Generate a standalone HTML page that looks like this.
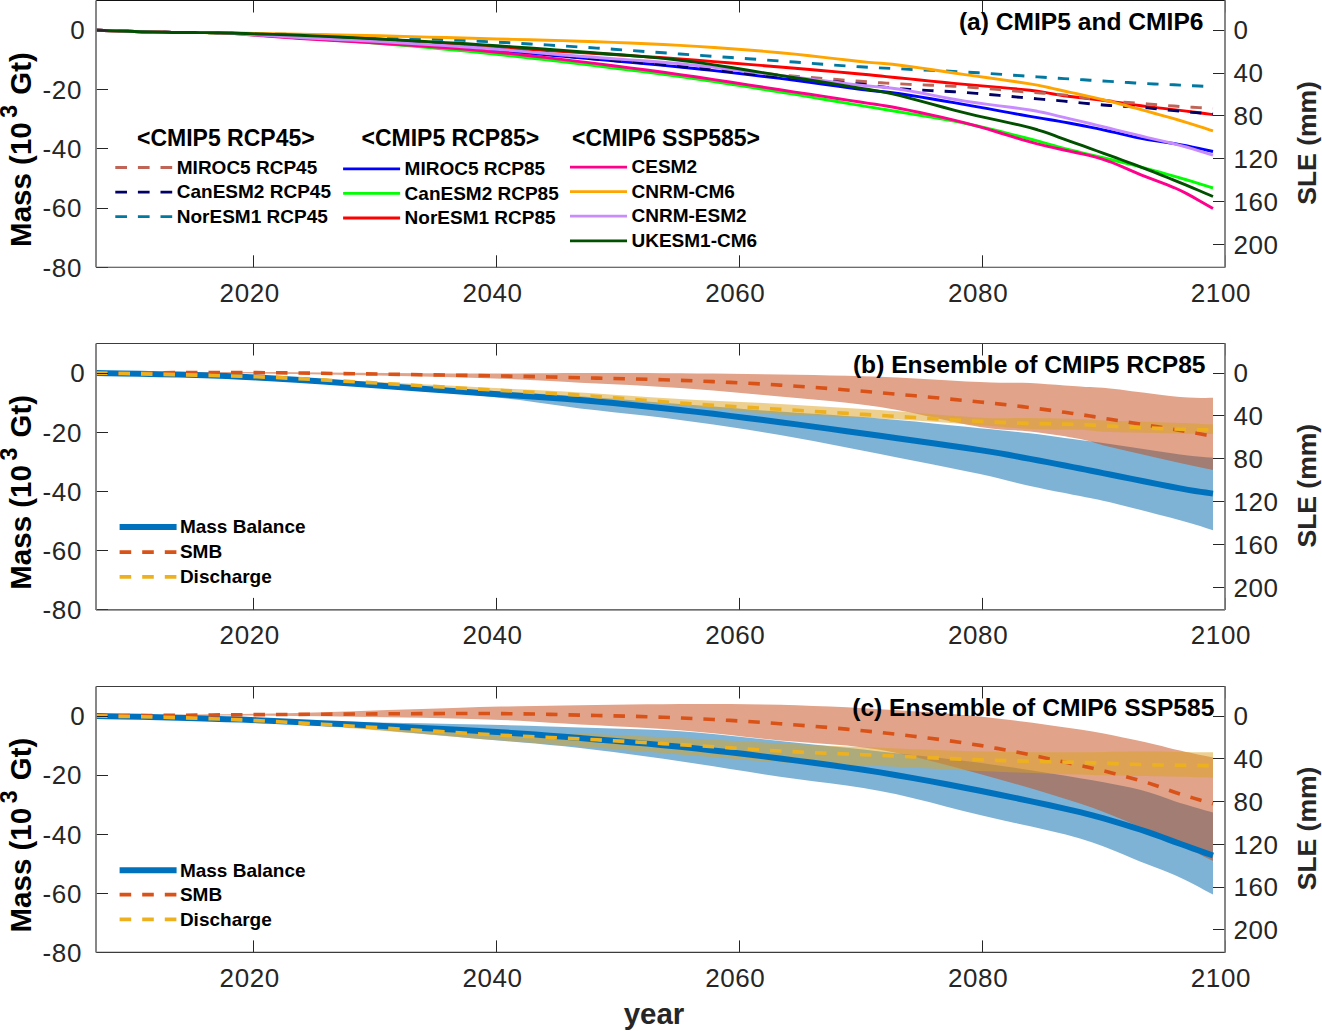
<!DOCTYPE html>
<html><head><meta charset="utf-8"><title>Mass change projections</title>
<style>html,body{margin:0;padding:0;background:#fff;}svg{display:block;}</style></head><body>
<svg width="1322" height="1031" viewBox="0 0 1322 1031" font-family='"Liberation Sans", sans-serif'>
<rect x="0" y="0" width="1322" height="1031" fill="#fff"/>
<g>
<path d="M96 30.3 L103.77 30.54 L114.81 30.88 L127.75 31.28 L141.19 31.69 L153.73 32.04 L164 32.3 L171.98 32.45 L178.78 32.52 L184.69 32.55 L190 32.56 L195.01 32.56 L200 32.6 L204.22 32.62 L207.3 32.61 L210.06 32.6 L213.37 32.63 L218.07 32.75 L225 33 L234.55 33.39 L246.11 33.88 L259.06 34.46 L272.78 35.11 L286.63 35.79 L300 36.5 L312.81 37.22 L325.56 37.96 L338.44 38.75 L351.67 39.59 L365.45 40.5 L380 41.5 L395.51 42.59 L411.85 43.77 L428.75 45.01 L445.93 46.31 L463.1 47.65 L480 49 L496.67 50.39 L513.33 51.82 L530 53.29 L546.67 54.79 L563.33 56.3 L580 57.8 L596.67 59.28 L613.33 60.76 L630 62.24 L646.67 63.76 L663.33 65.33 L680 67 L696.9 68.78 L714.07 70.66 L731.25 72.6 L748.15 74.56 L764.49 76.51 L780 78.4 L794.95 80.31 L809.63 82.27 L823.75 84.23 L837.04 86.08 L849.21 87.77 L860 89.2 L868.69 90.25 L875.37 90.96 L880.94 91.5 L886.3 92.04 L892.35 92.75 L900 93.8 L909.39 95.23 L919.81 96.9 L930.94 98.75 L942.41 100.7 L953.88 102.67 L965 104.6 L976.19 106.58 L987.81 108.69 L999.44 110.82 L1010.63 112.88 L1020.96 114.77 L1030 116.4 L1037.4 117.68 L1043.44 118.68 L1048.62 119.51 L1053.44 120.28 L1058.4 121.1 L1064 122.1 L1070.22 123.26 L1076.67 124.49 L1083.25 125.77 L1089.89 127.09 L1096.5 128.44 L1103 129.8 L1109.38 131.21 L1115.7 132.69 L1122 134.19 L1128.3 135.68 L1134.62 137.1 L1141 138.4 L1147.51 139.56 L1154.15 140.62 L1160.81 141.61 L1167.41 142.57 L1173.84 143.55 L1180 144.6 L1186.23 145.79 L1192.67 147.1 L1198.94 148.44 L1204.67 149.69 L1209.48 150.74 L1213 151.5" fill="none" stroke="#0000FF" stroke-width="2.9" stroke-linejoin="round"/>
<path d="M96 30.3 L103.77 30.54 L114.81 30.88 L127.75 31.28 L141.19 31.69 L153.73 32.04 L164 32.3 L171.98 32.45 L178.78 32.52 L184.69 32.55 L190 32.56 L195.01 32.56 L200 32.6 L204.22 32.61 L207.3 32.56 L210.06 32.51 L213.37 32.52 L218.07 32.67 L225 33 L234.55 33.56 L246.11 34.31 L259.06 35.18 L272.78 36.13 L286.63 37.08 L300 38 L312.81 38.85 L325.56 39.67 L338.44 40.5 L351.67 41.39 L365.45 42.38 L380 43.5 L395.51 44.77 L411.85 46.15 L428.75 47.63 L445.93 49.19 L463.1 50.82 L480 52.5 L496.67 54.25 L513.33 56.07 L530 57.97 L546.67 59.91 L563.33 61.9 L580 63.9 L596.67 65.91 L613.33 67.94 L630 70 L646.67 72.12 L663.33 74.31 L680 76.6 L696.9 79.03 L714.07 81.61 L731.25 84.26 L748.15 86.91 L764.49 89.52 L780 92 L794.95 94.43 L809.63 96.87 L823.75 99.25 L837.04 101.51 L849.21 103.58 L860 105.4 L868.69 106.84 L875.37 107.93 L880.94 108.83 L886.3 109.7 L892.35 110.71 L900 112 L909.39 113.56 L919.81 115.26 L930.94 117.08 L942.41 119.03 L953.88 121.11 L965 123.3 L976.19 125.73 L987.81 128.44 L999.44 131.27 L1010.63 134.07 L1020.96 136.7 L1030 139 L1037.4 140.93 L1043.44 142.6 L1048.62 144.1 L1053.44 145.51 L1058.4 146.91 L1064 148.4 L1070.22 149.95 L1076.67 151.5 L1083.25 153.05 L1089.89 154.6 L1096.5 156.15 L1103 157.7 L1109.38 159.24 L1115.7 160.77 L1122 162.31 L1128.3 163.86 L1134.62 165.45 L1141 167.1 L1147.51 168.83 L1154.15 170.62 L1160.81 172.46 L1167.41 174.3 L1173.84 176.12 L1180 177.9 L1186.23 179.74 L1192.67 181.69 L1198.94 183.62 L1204.67 185.41 L1209.48 186.91 L1213 188" fill="none" stroke="#00FF00" stroke-width="2.9" stroke-linejoin="round"/>
<path d="M96 30.3 L103.77 30.54 L114.81 30.88 L127.75 31.28 L141.19 31.69 L153.73 32.04 L164 32.3 L171.98 32.45 L178.78 32.52 L184.69 32.55 L190 32.56 L195.01 32.56 L200 32.6 L204.22 32.64 L207.3 32.65 L210.06 32.66 L213.37 32.71 L218.07 32.81 L225 33 L234.55 33.28 L246.11 33.64 L259.06 34.06 L272.78 34.51 L286.63 35 L300 35.5 L312.81 35.98 L325.56 36.44 L338.44 36.94 L351.67 37.5 L365.45 38.17 L380 39 L395.51 40.04 L411.85 41.26 L428.75 42.59 L445.93 43.96 L463.1 45.29 L480 46.5 L496.67 47.58 L513.33 48.59 L530 49.56 L546.67 50.52 L563.33 51.49 L580 52.5 L596.67 53.54 L613.33 54.57 L630 55.62 L646.67 56.7 L663.33 57.82 L680 59 L696.9 60.26 L714.07 61.59 L731.25 62.97 L748.15 64.35 L764.49 65.71 L780 67 L794.95 68.26 L809.63 69.52 L823.75 70.75 L837.04 71.93 L849.21 73.02 L860 74 L868.69 74.81 L875.37 75.47 L880.94 76.04 L886.3 76.6 L892.35 77.23 L900 78 L909.39 78.93 L919.81 79.97 L930.94 81.08 L942.41 82.21 L953.88 83.33 L965 84.4 L976.19 85.42 L987.81 86.42 L999.44 87.41 L1010.63 88.39 L1020.96 89.35 L1030 90.3 L1037.4 91.24 L1043.44 92.17 L1048.62 93.08 L1053.44 93.98 L1058.4 94.85 L1064 95.7 L1070.22 96.5 L1076.67 97.26 L1083.25 97.99 L1089.89 98.73 L1096.5 99.49 L1103 100.3 L1109.38 101.17 L1115.7 102.1 L1122 103.05 L1128.3 104 L1134.62 104.92 L1141 105.8 L1147.51 106.62 L1154.15 107.41 L1160.81 108.18 L1167.41 108.93 L1173.84 109.67 L1180 110.4 L1186.23 111.17 L1192.67 111.99 L1198.94 112.79 L1204.67 113.53 L1209.48 114.15 L1213 114.6" fill="none" stroke="#FF0000" stroke-width="2.9" stroke-linejoin="round"/>
<path d="M96 30.3 L103.77 30.54 L114.81 30.88 L127.75 31.28 L141.19 31.69 L153.73 32.04 L164 32.3 L171.98 32.45 L178.78 32.52 L184.69 32.55 L190 32.56 L195.01 32.56 L200 32.6 L204.22 32.63 L207.3 32.63 L210.06 32.63 L213.37 32.67 L218.07 32.78 L225 33 L234.55 33.33 L246.11 33.75 L259.06 34.24 L272.78 34.79 L286.63 35.38 L300 36 L312.81 36.63 L325.56 37.3 L338.44 38 L351.67 38.76 L365.45 39.59 L380 40.5 L395.51 41.49 L411.85 42.56 L428.75 43.69 L445.93 44.89 L463.1 46.16 L480 47.5 L496.67 48.94 L513.33 50.5 L530 52.12 L546.67 53.78 L563.33 55.42 L580 57 L596.67 58.53 L613.33 60.04 L630 61.53 L646.67 63.02 L663.33 64.51 L680 66 L696.9 67.53 L714.07 69.1 L731.25 70.67 L748.15 72.2 L764.49 73.66 L780 75 L794.95 76.25 L809.63 77.44 L823.75 78.55 L837.04 79.57 L849.21 80.5 L860 81.3 L868.69 81.94 L875.37 82.43 L880.94 82.81 L886.3 83.14 L892.35 83.49 L900 83.9 L909.39 84.35 L919.81 84.78 L930.94 85.23 L942.41 85.71 L953.88 86.26 L965 86.9 L976.19 87.69 L987.81 88.63 L999.44 89.62 L1010.63 90.62 L1020.96 91.53 L1030 92.3 L1037.4 92.86 L1043.44 93.27 L1048.62 93.6 L1053.44 93.93 L1058.4 94.34 L1064 94.9 L1070.22 95.66 L1076.67 96.58 L1083.25 97.57 L1089.89 98.57 L1096.5 99.5 L1103 100.3 L1109.38 100.95 L1115.7 101.5 L1122 101.99 L1128.3 102.45 L1134.62 102.91 L1141 103.4 L1147.51 103.93 L1154.15 104.48 L1160.81 105.03 L1167.41 105.56 L1173.84 106.05 L1180 106.5 L1186.23 106.91 L1192.67 107.29 L1198.94 107.64 L1204.67 107.95 L1209.48 108.21 L1213 108.4" fill="none" stroke="#C06458" stroke-width="2.9" stroke-dasharray="11.3 11.1" stroke-linejoin="round"/>
<path d="M96 30.3 L103.77 30.54 L114.81 30.88 L127.75 31.28 L141.19 31.69 L153.73 32.04 L164 32.3 L171.98 32.45 L178.78 32.52 L184.69 32.55 L190 32.56 L195.01 32.56 L200 32.6 L204.22 32.63 L207.3 32.63 L210.06 32.63 L213.37 32.67 L218.07 32.78 L225 33 L234.55 33.33 L246.11 33.75 L259.06 34.24 L272.78 34.79 L286.63 35.38 L300 36 L312.81 36.63 L325.56 37.28 L338.44 37.97 L351.67 38.72 L365.45 39.56 L380 40.5 L395.51 41.55 L411.85 42.7 L428.75 43.94 L445.93 45.24 L463.1 46.6 L480 48 L496.67 49.47 L513.33 51.04 L530 52.66 L546.67 54.3 L563.33 55.92 L580 57.5 L596.67 59.01 L613.33 60.48 L630 61.94 L646.67 63.41 L663.33 64.92 L680 66.5 L696.9 68.2 L714.07 70.02 L731.25 71.88 L748.15 73.7 L764.49 75.44 L780 77 L794.95 78.39 L809.63 79.67 L823.75 80.86 L837.04 81.96 L849.21 83 L860 84 L868.69 84.94 L875.37 85.8 L880.94 86.61 L886.3 87.36 L892.35 88.09 L900 88.8 L909.39 89.46 L919.81 90.04 L930.94 90.59 L942.41 91.16 L953.88 91.78 L965 92.5 L976.19 93.37 L987.81 94.36 L999.44 95.4 L1010.63 96.43 L1020.96 97.39 L1030 98.2 L1037.4 98.83 L1043.44 99.34 L1048.62 99.76 L1053.44 100.16 L1058.4 100.59 L1064 101.1 L1070.22 101.71 L1076.67 102.39 L1083.25 103.09 L1089.89 103.78 L1096.5 104.43 L1103 105 L1109.38 105.46 L1115.7 105.83 L1122 106.15 L1128.3 106.47 L1134.62 106.84 L1141 107.3 L1147.51 107.87 L1154.15 108.52 L1160.81 109.22 L1167.41 109.92 L1173.84 110.6 L1180 111.2 L1186.23 111.76 L1192.67 112.32 L1198.94 112.84 L1204.67 113.31 L1209.48 113.71 L1213 114" fill="none" stroke="#000066" stroke-width="2.9" stroke-dasharray="11.3 11.1" stroke-linejoin="round"/>
<path d="M96 30.3 L103.77 30.54 L114.81 30.88 L127.75 31.28 L141.19 31.69 L153.73 32.04 L164 32.3 L171.98 32.45 L178.78 32.52 L184.69 32.55 L190 32.56 L195.01 32.56 L200 32.6 L204.22 32.65 L207.3 32.68 L210.06 32.72 L213.37 32.77 L218.07 32.86 L225 33 L234.55 33.19 L246.11 33.41 L259.06 33.68 L272.78 33.96 L286.63 34.27 L300 34.6 L312.81 34.93 L325.56 35.27 L338.44 35.64 L351.67 36.04 L365.45 36.49 L380 37 L395.51 37.58 L411.85 38.21 L428.75 38.89 L445.93 39.61 L463.1 40.39 L480 41.2 L496.67 42.06 L513.33 42.97 L530 43.93 L546.67 44.92 L563.33 45.95 L580 47 L596.67 48.1 L613.33 49.24 L630 50.42 L646.67 51.62 L663.33 52.82 L680 54 L696.9 55.18 L714.07 56.38 L731.25 57.57 L748.15 58.76 L764.49 59.9 L780 61 L794.2 62.04 L807.22 63.04 L819.69 64.01 L832.22 64.96 L845.45 65.88 L860 66.8 L876.52 67.71 L894.63 68.61 L913.44 69.49 L932.04 70.35 L949.53 71.19 L965 72 L978.51 72.81 L990.78 73.61 L1001.94 74.39 L1012.11 75.13 L1021.42 75.8 L1030 76.4 L1037.4 76.89 L1043.44 77.29 L1048.62 77.63 L1053.44 77.93 L1058.4 78.25 L1064 78.6 L1070.22 78.99 L1076.67 79.39 L1083.25 79.79 L1089.89 80.2 L1096.5 80.6 L1103 81 L1109.38 81.39 L1115.7 81.79 L1122 82.19 L1128.3 82.57 L1134.62 82.95 L1141 83.3 L1147.51 83.63 L1154.15 83.94 L1160.81 84.24 L1167.41 84.53 L1173.84 84.82 L1180 85.1 L1186.23 85.4 L1192.67 85.71 L1198.94 86.01 L1204.67 86.29 L1209.48 86.53 L1213 86.7" fill="none" stroke="#0078A0" stroke-width="2.9" stroke-dasharray="11.3 11.1" stroke-linejoin="round"/>
<path d="M96 30.3 L103.77 30.54 L114.81 30.88 L127.75 31.28 L141.19 31.69 L153.73 32.04 L164 32.3 L171.98 32.45 L178.78 32.52 L184.69 32.55 L190 32.56 L195.01 32.56 L200 32.6 L204.22 32.6 L207.3 32.53 L210.06 32.47 L213.37 32.48 L218.07 32.63 L225 33 L234.55 33.64 L246.11 34.51 L259.06 35.53 L272.78 36.61 L286.63 37.66 L300 38.6 L312.81 39.41 L325.56 40.14 L338.44 40.84 L351.67 41.57 L365.45 42.38 L380 43.3 L395.51 44.32 L411.85 45.4 L428.75 46.56 L445.93 47.8 L463.1 49.14 L480 50.6 L496.67 52.2 L513.33 53.92 L530 55.74 L546.67 57.65 L563.33 59.61 L580 61.6 L596.67 63.63 L613.33 65.7 L630 67.84 L646.67 70.03 L663.33 72.28 L680 74.6 L696.9 77.04 L714.07 79.61 L731.25 82.25 L748.15 84.87 L764.49 87.41 L780 89.8 L794.95 92.07 L809.63 94.3 L823.75 96.44 L837.04 98.47 L849.21 100.33 L860 102 L868.69 103.32 L875.37 104.3 L880.94 105.12 L886.3 105.97 L892.35 107.03 L900 108.5 L909.39 110.38 L919.81 112.51 L930.94 114.86 L942.41 117.39 L953.88 120.05 L965 122.8 L976.19 125.83 L987.81 129.22 L999.44 132.74 L1010.63 136.17 L1020.96 139.3 L1030 141.9 L1037.4 143.87 L1043.44 145.37 L1048.62 146.56 L1053.44 147.62 L1058.4 148.71 L1064 150 L1070.22 151.41 L1076.67 152.78 L1083.25 154.19 L1089.89 155.7 L1096.5 157.38 L1103 159.3 L1109.38 161.52 L1115.7 164.01 L1122 166.66 L1128.3 169.4 L1134.62 172.14 L1141 174.8 L1147.51 177.35 L1154.15 179.86 L1160.81 182.38 L1167.41 184.93 L1173.84 187.55 L1180 190.3 L1186.23 193.4 L1192.67 196.87 L1198.94 200.42 L1204.67 203.75 L1209.48 206.58 L1213 208.6" fill="none" stroke="#FF008C" stroke-width="2.9" stroke-linejoin="round"/>
<path d="M96 30.3 L103.77 30.54 L114.81 30.88 L127.75 31.28 L141.19 31.69 L153.73 32.04 L164 32.3 L171.98 32.45 L178.78 32.52 L184.69 32.55 L190 32.56 L195.01 32.56 L200 32.6 L204.22 32.65 L207.3 32.7 L210.06 32.75 L213.37 32.81 L218.07 32.89 L225 33 L234.55 33.14 L246.11 33.29 L259.06 33.47 L272.78 33.66 L286.63 33.87 L300 34.1 L312.81 34.34 L325.56 34.59 L338.44 34.85 L351.67 35.14 L365.45 35.45 L380 35.8 L395.51 36.19 L411.85 36.63 L428.75 37.09 L445.93 37.56 L463.1 38.04 L480 38.5 L496.67 38.93 L513.33 39.34 L530 39.76 L546.67 40.19 L563.33 40.66 L580 41.2 L596.67 41.78 L613.33 42.37 L630 43.01 L646.67 43.71 L663.33 44.5 L680 45.4 L696.9 46.42 L714.07 47.55 L731.25 48.76 L748.15 50.04 L764.49 51.36 L780 52.7 L794.95 54.14 L809.63 55.71 L823.75 57.33 L837.04 58.89 L849.21 60.31 L860 61.5 L868.69 62.35 L875.37 62.9 L880.94 63.31 L886.3 63.73 L892.35 64.31 L900 65.2 L909.39 66.44 L919.81 67.91 L930.94 69.55 L942.41 71.26 L953.88 72.97 L965 74.6 L976.19 76.18 L987.81 77.79 L999.44 79.39 L1010.63 80.97 L1020.96 82.48 L1030 83.9 L1037.4 85.19 L1043.44 86.37 L1048.62 87.49 L1053.44 88.6 L1058.4 89.76 L1064 91 L1070.22 92.33 L1076.67 93.7 L1083.25 95.11 L1089.89 96.57 L1096.5 98.06 L1103 99.6 L1109.38 101.19 L1115.7 102.83 L1122 104.51 L1128.3 106.23 L1134.62 107.96 L1141 109.7 L1147.51 111.46 L1154.15 113.26 L1160.81 115.08 L1167.41 116.9 L1173.84 118.72 L1180 120.5 L1186.23 122.38 L1192.67 124.38 L1198.94 126.38 L1204.67 128.22 L1209.48 129.77 L1213 130.9" fill="none" stroke="#FFA500" stroke-width="2.9" stroke-linejoin="round"/>
<path d="M96 30.3 L103.77 30.54 L114.81 30.88 L127.75 31.28 L141.19 31.69 L153.73 32.04 L164 32.3 L171.98 32.45 L178.78 32.52 L184.69 32.55 L190 32.56 L195.01 32.56 L200 32.6 L204.22 32.61 L207.3 32.57 L210.06 32.54 L213.37 32.56 L218.07 32.69 L225 33 L234.55 33.52 L246.11 34.21 L259.06 35.02 L272.78 35.88 L286.63 36.73 L300 37.5 L312.81 38.18 L325.56 38.81 L338.44 39.43 L351.67 40.08 L365.45 40.79 L380 41.6 L395.51 42.51 L411.85 43.49 L428.75 44.54 L445.93 45.64 L463.1 46.8 L480 48 L496.67 49.28 L513.33 50.66 L530 52.08 L546.67 53.52 L563.33 54.94 L580 56.3 L596.67 57.55 L613.33 58.71 L630 59.84 L646.67 61.03 L663.33 62.32 L680 63.8 L696.9 65.52 L714.07 67.43 L731.25 69.46 L748.15 71.52 L764.49 73.53 L780 75.4 L794.95 77.19 L809.63 78.98 L823.75 80.71 L837.04 82.34 L849.21 83.82 L860 85.1 L868.69 86.03 L875.37 86.63 L880.94 87.07 L886.3 87.54 L892.35 88.22 L900 89.3 L909.39 90.86 L919.81 92.78 L930.94 94.91 L942.41 97.1 L953.88 99.21 L965 101.1 L976.19 102.77 L987.81 104.34 L999.44 105.82 L1010.63 107.25 L1020.96 108.64 L1030 110 L1037.4 111.3 L1043.44 112.51 L1048.62 113.67 L1053.44 114.85 L1058.4 116.07 L1064 117.4 L1070.22 118.84 L1076.67 120.36 L1083.25 121.93 L1089.89 123.53 L1096.5 125.13 L1103 126.7 L1109.38 128.25 L1115.7 129.8 L1122 131.35 L1128.3 132.9 L1134.62 134.45 L1141 136 L1147.51 137.54 L1154.15 139.08 L1160.81 140.62 L1167.41 142.16 L1173.84 143.72 L1180 145.3 L1186.23 147.02 L1192.67 148.89 L1198.94 150.78 L1204.67 152.54 L1209.48 154.03 L1213 155.1" fill="none" stroke="#C88CFF" stroke-width="2.9" stroke-linejoin="round"/>
<path d="M96 30.3 L103.77 30.54 L114.81 30.88 L127.75 31.28 L141.19 31.69 L153.73 32.04 L164 32.3 L171.98 32.45 L178.78 32.52 L184.69 32.55 L190 32.56 L195.01 32.56 L200 32.6 L204.22 32.64 L207.3 32.66 L210.06 32.68 L213.37 32.72 L218.07 32.82 L225 33 L234.55 33.26 L246.11 33.57 L259.06 33.94 L272.78 34.35 L286.63 34.81 L300 35.3 L312.81 35.83 L325.56 36.39 L338.44 37 L351.67 37.65 L365.45 38.35 L380 39.1 L395.51 39.9 L411.85 40.74 L428.75 41.64 L445.93 42.58 L463.1 43.57 L480 44.6 L496.67 45.69 L513.33 46.83 L530 48.02 L546.67 49.25 L563.33 50.51 L580 51.8 L596.67 53.05 L613.33 54.26 L630 55.5 L646.67 56.85 L663.33 58.39 L680 60.2 L696.9 62.37 L714.07 64.86 L731.25 67.53 L748.15 70.27 L764.49 72.93 L780 75.4 L794.95 77.72 L809.63 80.01 L823.75 82.22 L837.04 84.34 L849.21 86.31 L860 88.1 L868.69 89.55 L875.37 90.66 L880.94 91.62 L886.3 92.64 L892.35 93.94 L900 95.7 L909.39 98.04 L919.81 100.81 L930.94 103.85 L942.41 106.99 L953.88 110.06 L965 112.9 L976.19 115.54 L987.81 118.14 L999.44 120.66 L1010.63 123.11 L1020.96 125.46 L1030 127.7 L1037.4 129.77 L1043.44 131.66 L1048.62 133.45 L1053.44 135.23 L1058.4 137.09 L1064 139.1 L1070.22 141.28 L1076.67 143.57 L1083.25 145.94 L1089.89 148.34 L1096.5 150.74 L1103 153.1 L1109.38 155.42 L1115.7 157.71 L1122 160.01 L1128.3 162.32 L1134.62 164.68 L1141 167.1 L1147.51 169.62 L1154.15 172.21 L1160.81 174.86 L1167.41 177.5 L1173.84 180.09 L1180 182.6 L1186.23 185.17 L1192.67 187.87 L1198.94 190.52 L1204.67 192.96 L1209.48 195.01 L1213 196.5" fill="none" stroke="#005000" stroke-width="2.9" stroke-linejoin="round"/>
<line x1="253.5" y1="267.3" x2="253.5" y2="255.3" stroke="#262626" stroke-width="1"/>
<line x1="253.5" y1="0.5" x2="253.5" y2="12.5" stroke="#262626" stroke-width="1"/>
<text x="249.72" y="301.7" font-size="26" letter-spacing="0.6" text-anchor="middle" fill="#262626">2020</text>
<line x1="496.5" y1="267.3" x2="496.5" y2="255.3" stroke="#262626" stroke-width="1"/>
<line x1="496.5" y1="0.5" x2="496.5" y2="12.5" stroke="#262626" stroke-width="1"/>
<text x="492.51" y="301.7" font-size="26" letter-spacing="0.6" text-anchor="middle" fill="#262626">2040</text>
<line x1="739.5" y1="267.3" x2="739.5" y2="255.3" stroke="#262626" stroke-width="1"/>
<line x1="739.5" y1="0.5" x2="739.5" y2="12.5" stroke="#262626" stroke-width="1"/>
<text x="735.31" y="301.7" font-size="26" letter-spacing="0.6" text-anchor="middle" fill="#262626">2060</text>
<line x1="982.5" y1="267.3" x2="982.5" y2="255.3" stroke="#262626" stroke-width="1"/>
<line x1="982.5" y1="0.5" x2="982.5" y2="12.5" stroke="#262626" stroke-width="1"/>
<text x="978.1" y="301.7" font-size="26" letter-spacing="0.6" text-anchor="middle" fill="#262626">2080</text>
<line x1="1225.5" y1="267.3" x2="1225.5" y2="255.3" stroke="#262626" stroke-width="1"/>
<line x1="1225.5" y1="0.5" x2="1225.5" y2="12.5" stroke="#262626" stroke-width="1"/>
<text x="1220.9" y="301.7" font-size="26" letter-spacing="0.6" text-anchor="middle" fill="#262626">2100</text>
<line x1="96" y1="30.5" x2="108" y2="30.5" stroke="#262626" stroke-width="1"/>
<text x="85.4" y="39.44" font-size="26" letter-spacing="0.6" text-anchor="end" fill="#262626">0</text>
<line x1="96" y1="89.5" x2="108" y2="89.5" stroke="#262626" stroke-width="1"/>
<text x="82" y="98.73" font-size="26" letter-spacing="0.6" text-anchor="end" fill="#262626">-20</text>
<line x1="96" y1="148.5" x2="108" y2="148.5" stroke="#262626" stroke-width="1"/>
<text x="82" y="158.02" font-size="26" letter-spacing="0.6" text-anchor="end" fill="#262626">-40</text>
<line x1="96" y1="208.5" x2="108" y2="208.5" stroke="#262626" stroke-width="1"/>
<text x="82" y="217.31" font-size="26" letter-spacing="0.6" text-anchor="end" fill="#262626">-60</text>
<line x1="96" y1="267.5" x2="108" y2="267.5" stroke="#262626" stroke-width="1"/>
<text x="82" y="276.6" font-size="26" letter-spacing="0.6" text-anchor="end" fill="#262626">-80</text>
<line x1="1213" y1="30.5" x2="1225" y2="30.5" stroke="#262626" stroke-width="1"/>
<text x="1233.5" y="39.44" font-size="26" letter-spacing="0.6" fill="#262626">0</text>
<line x1="1213" y1="73.5" x2="1225" y2="73.5" stroke="#262626" stroke-width="1"/>
<text x="1233.5" y="82.37" font-size="26" letter-spacing="0.6" fill="#262626">40</text>
<line x1="1213" y1="115.5" x2="1225" y2="115.5" stroke="#262626" stroke-width="1"/>
<text x="1233.5" y="125.29" font-size="26" letter-spacing="0.6" fill="#262626">80</text>
<line x1="1213" y1="158.5" x2="1225" y2="158.5" stroke="#262626" stroke-width="1"/>
<text x="1233.5" y="168.22" font-size="26" letter-spacing="0.6" fill="#262626">120</text>
<line x1="1213" y1="201.5" x2="1225" y2="201.5" stroke="#262626" stroke-width="1"/>
<text x="1233.5" y="211.15" font-size="26" letter-spacing="0.6" fill="#262626">160</text>
<line x1="1213" y1="244.5" x2="1225" y2="244.5" stroke="#262626" stroke-width="1"/>
<text x="1233.5" y="254.07" font-size="26" letter-spacing="0.6" fill="#262626">200</text>
<line x1="96" y1="0.5" x2="1225" y2="0.5" stroke="#111" stroke-width="1.1"/>
<line x1="96" y1="267.3" x2="1225" y2="267.3" stroke="#3c3c3c" stroke-width="1.1"/>
<line x1="96" y1="0.5" x2="96" y2="267.3" stroke="#7a7a7a" stroke-width="1.8"/>
<line x1="1225" y1="0.5" x2="1225" y2="267.3" stroke="#7a7a7a" stroke-width="1.8"/>
<text transform="translate(31,246.9) rotate(-90)" font-size="29.5" font-weight="bold" fill="#000">Mass (10<tspan font-size="23" dx="4.5" dy="-14">3</tspan><tspan dx="2" dy="14"> Gt)</tspan></text>
<text transform="translate(1316,142.9) rotate(-90)" font-size="26.5" font-weight="bold" text-anchor="middle" fill="#262626">SLE (mm)</text>
<text x="1203.5" y="30" font-size="24.6" font-weight="bold" text-anchor="end" fill="#000">(a) CMIP5 and CMIP6</text>
<text x="137" y="145.5" font-size="23" font-weight="bold" fill="#000">&lt;CMIP5 RCP45&gt;</text>
<text x="361.5" y="145.5" font-size="23" font-weight="bold" fill="#000">&lt;CMIP5 RCP85&gt;</text>
<text x="572" y="145.5" font-size="23" font-weight="bold" fill="#000">&lt;CMIP6 SSP585&gt;</text>
<line x1="115.3" y1="167.5" x2="172.3" y2="167.5" stroke="#C06458" stroke-width="2.8" stroke-dasharray="11.7 10.9"/>
<text x="176.8" y="173.8" font-size="19" font-weight="bold" fill="#000">MIROC5 RCP45</text>
<line x1="115.3" y1="192.1" x2="172.3" y2="192.1" stroke="#000066" stroke-width="2.8" stroke-dasharray="11.7 10.9"/>
<text x="176.8" y="198.4" font-size="19" font-weight="bold" fill="#000">CanESM2 RCP45</text>
<line x1="115.3" y1="216.7" x2="172.3" y2="216.7" stroke="#0078A0" stroke-width="2.8" stroke-dasharray="11.7 10.9"/>
<text x="176.8" y="223" font-size="19" font-weight="bold" fill="#000">NorESM1 RCP45</text>
<line x1="343.1" y1="168.9" x2="400.1" y2="168.9" stroke="#0000FF" stroke-width="2.8"/>
<text x="404.6" y="175.2" font-size="19" font-weight="bold" fill="#000">MIROC5 RCP85</text>
<line x1="343.1" y1="193.4" x2="400.1" y2="193.4" stroke="#00FF00" stroke-width="2.8"/>
<text x="404.6" y="199.7" font-size="19" font-weight="bold" fill="#000">CanESM2 RCP85</text>
<line x1="343.1" y1="218" x2="400.1" y2="218" stroke="#FF0000" stroke-width="2.8"/>
<text x="404.6" y="224.3" font-size="19" font-weight="bold" fill="#000">NorESM1 RCP85</text>
<line x1="570" y1="167.1" x2="627" y2="167.1" stroke="#FF008C" stroke-width="2.8"/>
<text x="631.5" y="173.4" font-size="19" font-weight="bold" fill="#000">CESM2</text>
<line x1="570" y1="191.6" x2="627" y2="191.6" stroke="#FFA500" stroke-width="2.8"/>
<text x="631.5" y="197.9" font-size="19" font-weight="bold" fill="#000">CNRM-CM6</text>
<line x1="570" y1="216.1" x2="627" y2="216.1" stroke="#C88CFF" stroke-width="2.8"/>
<text x="631.5" y="222.4" font-size="19" font-weight="bold" fill="#000">CNRM-ESM2</text>
<line x1="570" y1="240.8" x2="627" y2="240.8" stroke="#005000" stroke-width="2.8"/>
<text x="631.5" y="247.1" font-size="19" font-weight="bold" fill="#000">UKESM1-CM6</text>
</g>
<g>
<path d="M96 373 L106.88 373.17 L121.93 373.38 L139.75 373.64 L158.96 373.96 L178.18 374.34 L196 374.8 L211.69 375.28 L226.22 375.76 L240.75 376.31 L256.44 376.99 L274.47 377.86 L296 379 L322.78 380.53 L354.22 382.44 L388 384.54 L421.78 386.66 L453.22 388.64 L480 390.3 L501.53 391.59 L519.56 392.63 L535.25 393.52 L549.78 394.37 L564.31 395.26 L580 396.3 L596.67 397.49 L613.33 398.74 L630 400.05 L646.67 401.38 L663.33 402.7 L680 404 L696.67 405.28 L713.33 406.57 L730 407.86 L746.67 409.13 L763.33 410.38 L780 411.6 L796.67 412.74 L813.33 413.81 L830 414.86 L846.67 415.94 L863.33 417.1 L880 418.4 L897.25 419.91 L915.19 421.62 L933.12 423.41 L950.37 425.17 L966.23 426.8 L980 428.2 L991.23 429.3 L1000.37 430.19 L1008.12 430.94 L1015.19 431.66 L1022.25 432.41 L1030 433.3 L1038.56 434.36 L1047.41 435.51 L1056.25 436.72 L1064.81 437.91 L1072.82 439.02 L1080 440 L1085.69 440.75 L1090 441.29 L1093.75 441.76 L1097.78 442.29 L1102.92 442.99 L1110 444 L1119.78 445.46 L1131.74 447.29 L1144.81 449.29 L1157.93 451.29 L1170.01 453.09 L1180 454.5 L1188.02 455.5 L1194.96 456.26 L1200.88 456.81 L1205.81 457.21 L1209.84 457.52 L1213 457.8 L1213 530.3 L1209.84 529.29 L1205.81 527.97 L1200.88 526.37 L1194.96 524.52 L1188.02 522.45 L1180 520.2 L1170.01 517.53 L1157.93 514.38 L1144.81 511.01 L1131.74 507.69 L1119.78 504.7 L1110 502.3 L1102.92 500.63 L1097.78 499.51 L1093.75 498.71 L1090 498.02 L1085.69 497.22 L1080 496.1 L1072.82 494.66 L1064.81 493.09 L1056.25 491.41 L1047.41 489.64 L1038.56 487.83 L1030 486 L1022.25 484.22 L1015.19 482.47 L1008.12 480.68 L1000.37 478.74 L991.23 476.58 L980 474.1 L966.23 471.21 L950.37 467.97 L933.12 464.49 L915.19 460.92 L897.25 457.38 L880 454 L863.33 450.72 L846.67 447.44 L830 444.19 L813.33 441 L796.67 437.93 L780 435 L763.33 432.22 L746.67 429.54 L730 426.98 L713.33 424.52 L696.67 422.16 L680 419.9 L663.33 417.79 L646.67 415.85 L630 414.01 L613.33 412.2 L596.67 410.35 L580 408.4 L564.31 406.37 L549.78 404.31 L535.25 402.23 L519.56 400.09 L501.53 397.88 L480 395.6 L453.22 393.1 L421.78 390.36 L388 387.56 L354.22 384.87 L322.78 382.46 L296 380.5 L274.47 379.05 L256.44 377.98 L240.75 377.19 L226.22 376.59 L211.69 376.05 L196 375.5 L178.18 374.95 L158.96 374.48 L139.75 374.09 L121.93 373.77 L106.88 373.51 L96 373.3 Z" fill="#0067AB" fill-opacity="0.5" stroke="none"/>
<path d="M96 373 L106.88 372.9 L121.93 372.76 L139.75 372.6 L158.96 372.44 L178.18 372.3 L196 372.2 L211.69 372.14 L226.22 372.09 L240.75 372.06 L256.44 372.07 L274.47 372.11 L296 372.2 L322.78 372.38 L354.22 372.64 L388 372.94 L421.78 373.24 L453.22 373.47 L480 373.6 L501.53 373.59 L519.56 373.48 L535.25 373.31 L549.78 373.13 L564.31 372.98 L580 372.9 L596.67 372.89 L613.33 372.92 L630 372.98 L646.67 373.07 L663.33 373.17 L680 373.3 L696.67 373.44 L713.33 373.6 L730 373.78 L746.67 373.99 L763.33 374.23 L780 374.5 L796.67 374.78 L813.33 375.07 L830 375.39 L846.67 375.77 L863.33 376.23 L880 376.8 L897.25 377.56 L915.19 378.5 L933.12 379.53 L950.37 380.54 L966.23 381.43 L980 382.1 L991.23 382.49 L1000.37 382.66 L1008.12 382.71 L1015.19 382.74 L1022.25 382.84 L1030 383.1 L1038.56 383.56 L1047.41 384.14 L1056.25 384.79 L1064.81 385.46 L1072.82 386.08 L1080 386.6 L1085.69 386.93 L1090 387.11 L1093.75 387.24 L1097.78 387.44 L1102.92 387.82 L1110 388.5 L1119.78 389.62 L1131.74 391.13 L1144.81 392.82 L1157.93 394.49 L1170.01 395.95 L1180 397 L1188.02 397.59 L1194.96 397.87 L1200.88 397.93 L1205.81 397.88 L1209.84 397.8 L1213 397.8 L1213 470 L1209.84 469.34 L1205.81 468.52 L1200.88 467.5 L1194.96 466.26 L1188.02 464.77 L1180 463 L1170.01 460.76 L1157.93 458.04 L1144.81 455.06 L1131.74 452.07 L1119.78 449.31 L1110 447 L1102.92 445.2 L1097.78 443.72 L1093.75 442.47 L1090 441.33 L1085.69 440.21 L1080 439 L1072.82 437.69 L1064.81 436.35 L1056.25 435.03 L1047.41 433.76 L1038.56 432.57 L1030 431.5 L1022.25 430.75 L1015.19 430.35 L1008.12 430.02 L1000.37 429.53 L991.23 428.61 L980 427 L966.23 424.47 L950.37 421.16 L933.12 417.43 L915.19 413.61 L897.25 410.06 L880 407.1 L863.33 404.77 L846.67 402.8 L830 401.09 L813.33 399.53 L796.67 398.04 L780 396.5 L763.33 394.92 L746.67 393.39 L730 391.92 L713.33 390.52 L696.67 389.21 L680 388 L663.33 386.93 L646.67 385.98 L630 385.12 L613.33 384.31 L596.67 383.52 L580 382.7 L564.31 381.86 L549.78 381.03 L535.25 380.21 L519.56 379.41 L501.53 378.64 L480 377.9 L453.22 377.16 L421.78 376.43 L388 375.71 L354.22 375.05 L322.78 374.47 L296 374 L274.47 373.65 L256.44 373.4 L240.75 373.24 L226.22 373.13 L211.69 373.06 L196 373 L178.18 372.98 L158.96 373.01 L139.75 373.09 L121.93 373.17 L106.88 373.25 L96 373.3 Z" fill="#C34713" fill-opacity="0.5" stroke="none"/>
<path d="M96 373 L106.88 373.18 L121.93 373.41 L139.75 373.7 L158.96 374.03 L178.18 374.4 L196 374.8 L211.69 375.18 L226.22 375.54 L240.75 375.94 L256.44 376.44 L274.47 377.1 L296 378 L322.78 379.23 L354.22 380.77 L388 382.47 L421.78 384.2 L453.22 385.82 L480 387.2 L501.53 388.3 L519.56 389.21 L535.25 390.02 L549.78 390.79 L564.31 391.59 L580 392.5 L596.67 393.53 L613.33 394.63 L630 395.77 L646.67 396.9 L663.33 397.99 L680 399 L696.67 399.91 L713.33 400.74 L730 401.53 L746.67 402.31 L763.33 403.12 L780 404 L796.67 404.94 L813.33 405.9 L830 406.89 L846.67 407.91 L863.33 408.98 L880 410.1 L897.25 411.36 L915.19 412.79 L933.12 414.26 L950.37 415.65 L966.23 416.84 L980 417.7 L991.23 418.16 L1000.37 418.31 L1008.12 418.25 L1015.19 418.1 L1022.25 417.98 L1030 418 L1038.56 418.14 L1047.41 418.32 L1056.25 418.52 L1064.81 418.74 L1072.82 418.97 L1080 419.2 L1085.69 419.42 L1090 419.65 L1093.75 419.88 L1097.78 420.13 L1102.92 420.4 L1110 420.7 L1119.78 421.05 L1131.74 421.44 L1144.81 421.85 L1157.93 422.26 L1170.01 422.65 L1180 423 L1188.02 423.31 L1194.96 423.61 L1200.88 423.89 L1205.81 424.14 L1209.84 424.35 L1213 424.5 L1213 434 L1209.84 433.96 L1205.81 433.91 L1200.88 433.84 L1194.96 433.76 L1188.02 433.65 L1180 433.5 L1170.01 433.32 L1157.93 433.1 L1144.81 432.86 L1131.74 432.59 L1119.78 432.3 L1110 432 L1102.92 431.66 L1097.78 431.27 L1093.75 430.86 L1090 430.46 L1085.69 430.1 L1080 429.8 L1072.82 429.61 L1064.81 429.51 L1056.25 429.44 L1047.41 429.36 L1038.56 429.2 L1030 428.9 L1022.25 428.48 L1015.19 427.99 L1008.12 427.42 L1000.37 426.77 L991.23 426.03 L980 425.2 L966.23 424.21 L950.37 423.06 L933.12 421.81 L915.19 420.57 L897.25 419.4 L880 418.4 L863.33 417.64 L846.67 417.07 L830 416.58 L813.33 416.06 L796.67 415.41 L780 414.5 L763.33 413.3 L746.67 411.89 L730 410.34 L713.33 408.73 L696.67 407.12 L680 405.6 L663.33 404.12 L646.67 402.61 L630 401.12 L613.33 399.66 L596.67 398.28 L580 397 L564.31 395.92 L549.78 395.02 L535.25 394.2 L519.56 393.33 L501.53 392.31 L480 391 L453.22 389.28 L421.78 387.2 L388 384.96 L354.22 382.75 L322.78 380.77 L296 379.2 L274.47 378.1 L256.44 377.31 L240.75 376.75 L226.22 376.32 L211.69 375.94 L196 375.5 L178.18 375.02 L158.96 374.57 L139.75 374.17 L121.93 373.81 L106.88 373.52 L96 373.3 Z" fill="#DBA121" fill-opacity="0.5" stroke="none"/>
<path d="M96 373.1 L106.88 373.29 L121.93 373.52 L139.75 373.81 L158.96 374.17 L178.18 374.59 L196 375.1 L211.69 375.62 L226.22 376.12 L240.75 376.69 L256.44 377.43 L274.47 378.4 L296 379.7 L322.78 381.48 L354.22 383.72 L388 386.19 L421.78 388.7 L453.22 391.04 L480 393 L501.53 394.51 L519.56 395.72 L535.25 396.76 L549.78 397.76 L564.31 398.83 L580 400.1 L596.67 401.56 L613.33 403.11 L630 404.73 L646.67 406.43 L663.33 408.18 L680 410 L696.67 411.88 L713.33 413.84 L730 415.87 L746.67 417.94 L763.33 420.06 L780 422.2 L796.67 424.38 L813.33 426.6 L830 428.87 L846.67 431.16 L863.33 433.48 L880 435.8 L897.25 438.21 L915.19 440.72 L933.12 443.25 L950.37 445.71 L966.23 448.03 L980 450.1 L991.23 451.88 L1000.37 453.41 L1008.12 454.79 L1015.19 456.11 L1022.25 457.45 L1030 458.9 L1038.56 460.5 L1047.41 462.17 L1056.25 463.87 L1064.81 465.54 L1072.82 467.1 L1080 468.5 L1085.69 469.62 L1090 470.47 L1093.75 471.23 L1097.78 472.05 L1102.92 473.08 L1110 474.5 L1119.78 476.46 L1131.74 478.87 L1144.81 481.5 L1157.93 484.12 L1170.01 486.5 L1180 488.4 L1188.02 489.83 L1194.96 490.97 L1200.88 491.87 L1205.81 492.57 L1209.84 493.13 L1213 493.6" fill="none" stroke="#0072BD" stroke-width="6" stroke-linejoin="round"/>
<path d="M96 373.1 L106.88 373.04 L121.93 372.94 L139.75 372.83 L158.96 372.72 L178.18 372.64 L196 372.6 L211.69 372.59 L226.22 372.59 L240.75 372.61 L256.44 372.67 L274.47 372.8 L296 373 L322.78 373.31 L354.22 373.72 L388 374.19 L421.78 374.69 L453.22 375.17 L480 375.6 L501.53 375.97 L519.56 376.32 L535.25 376.65 L549.78 376.98 L564.31 377.33 L580 377.7 L596.67 378.08 L613.33 378.45 L630 378.83 L646.67 379.25 L663.33 379.73 L680 380.3 L696.67 380.94 L713.33 381.63 L730 382.39 L746.67 383.21 L763.33 384.11 L780 385.1 L796.67 386.18 L813.33 387.36 L830 388.62 L846.67 389.94 L863.33 391.3 L880 392.7 L897.25 394.19 L915.19 395.81 L933.12 397.47 L950.37 399.11 L966.23 400.64 L980 402 L991.23 403.13 L1000.37 404.09 L1008.12 404.95 L1015.19 405.77 L1022.25 406.63 L1030 407.6 L1038.56 408.7 L1047.41 409.88 L1056.25 411.1 L1064.81 412.31 L1072.82 413.46 L1080 414.5 L1085.69 415.35 L1090 416.02 L1093.75 416.64 L1097.78 417.31 L1102.92 418.16 L1110 419.3 L1119.78 420.85 L1131.74 422.73 L1144.81 424.78 L1157.93 426.85 L1170.01 428.78 L1180 430.4 L1188.02 431.75 L1194.96 432.97 L1200.88 434.04 L1205.81 434.96 L1209.84 435.72 L1213 436.3" fill="none" stroke="#D95319" stroke-width="3.6" stroke-dasharray="11.5 11" stroke-linejoin="round"/>
<path d="M96 373.1 L106.88 373.3 L121.93 373.57 L139.75 373.89 L158.96 374.26 L178.18 374.66 L196 375.1 L211.69 375.5 L226.22 375.86 L240.75 376.26 L256.44 376.77 L274.47 377.49 L296 378.5 L322.78 379.92 L354.22 381.7 L388 383.69 L421.78 385.71 L453.22 387.6 L480 389.2 L501.53 390.45 L519.56 391.48 L535.25 392.38 L549.78 393.23 L564.31 394.14 L580 395.2 L596.67 396.43 L613.33 397.76 L630 399.14 L646.67 400.52 L663.33 401.86 L680 403.1 L696.67 404.23 L713.33 405.3 L730 406.31 L746.67 407.3 L763.33 408.29 L780 409.3 L796.67 410.32 L813.33 411.34 L830 412.36 L846.67 413.38 L863.33 414.39 L880 415.4 L897.25 416.45 L915.19 417.56 L933.12 418.66 L950.37 419.7 L966.23 420.63 L980 421.4 L991.23 421.98 L1000.37 422.4 L1008.12 422.71 L1015.19 422.95 L1022.25 423.17 L1030 423.4 L1038.56 423.63 L1047.41 423.81 L1056.25 423.97 L1064.81 424.13 L1072.82 424.3 L1080 424.5 L1085.69 424.72 L1090 424.94 L1093.75 425.17 L1097.78 425.43 L1102.92 425.73 L1110 426.1 L1119.78 426.57 L1131.74 427.15 L1144.81 427.77 L1157.93 428.37 L1170.01 428.9 L1180 429.3 L1188.02 429.55 L1194.96 429.69 L1200.88 429.75 L1205.81 429.77 L1209.84 429.78 L1213 429.8" fill="none" stroke="#EDB120" stroke-width="3.6" stroke-dasharray="11.5 11" stroke-linejoin="round"/>
<line x1="253.5" y1="609.9" x2="253.5" y2="597.9" stroke="#262626" stroke-width="1"/>
<line x1="253.5" y1="343.5" x2="253.5" y2="355.5" stroke="#262626" stroke-width="1"/>
<text x="249.72" y="644.3" font-size="26" letter-spacing="0.6" text-anchor="middle" fill="#262626">2020</text>
<line x1="496.5" y1="609.9" x2="496.5" y2="597.9" stroke="#262626" stroke-width="1"/>
<line x1="496.5" y1="343.5" x2="496.5" y2="355.5" stroke="#262626" stroke-width="1"/>
<text x="492.51" y="644.3" font-size="26" letter-spacing="0.6" text-anchor="middle" fill="#262626">2040</text>
<line x1="739.5" y1="609.9" x2="739.5" y2="597.9" stroke="#262626" stroke-width="1"/>
<line x1="739.5" y1="343.5" x2="739.5" y2="355.5" stroke="#262626" stroke-width="1"/>
<text x="735.31" y="644.3" font-size="26" letter-spacing="0.6" text-anchor="middle" fill="#262626">2060</text>
<line x1="982.5" y1="609.9" x2="982.5" y2="597.9" stroke="#262626" stroke-width="1"/>
<line x1="982.5" y1="343.5" x2="982.5" y2="355.5" stroke="#262626" stroke-width="1"/>
<text x="978.1" y="644.3" font-size="26" letter-spacing="0.6" text-anchor="middle" fill="#262626">2080</text>
<line x1="1225.5" y1="609.9" x2="1225.5" y2="597.9" stroke="#262626" stroke-width="1"/>
<line x1="1225.5" y1="343.5" x2="1225.5" y2="355.5" stroke="#262626" stroke-width="1"/>
<text x="1220.9" y="644.3" font-size="26" letter-spacing="0.6" text-anchor="middle" fill="#262626">2100</text>
<line x1="96" y1="373.5" x2="108" y2="373.5" stroke="#262626" stroke-width="1"/>
<text x="85.4" y="382.4" font-size="26" letter-spacing="0.6" text-anchor="end" fill="#262626">0</text>
<line x1="96" y1="432.5" x2="108" y2="432.5" stroke="#262626" stroke-width="1"/>
<text x="82" y="441.6" font-size="26" letter-spacing="0.6" text-anchor="end" fill="#262626">-20</text>
<line x1="96" y1="491.5" x2="108" y2="491.5" stroke="#262626" stroke-width="1"/>
<text x="82" y="500.8" font-size="26" letter-spacing="0.6" text-anchor="end" fill="#262626">-40</text>
<line x1="96" y1="550.5" x2="108" y2="550.5" stroke="#262626" stroke-width="1"/>
<text x="82" y="560" font-size="26" letter-spacing="0.6" text-anchor="end" fill="#262626">-60</text>
<line x1="96" y1="609.5" x2="108" y2="609.5" stroke="#262626" stroke-width="1"/>
<text x="82" y="619.2" font-size="26" letter-spacing="0.6" text-anchor="end" fill="#262626">-80</text>
<line x1="1213" y1="373.5" x2="1225" y2="373.5" stroke="#262626" stroke-width="1"/>
<text x="1233.5" y="382.4" font-size="26" letter-spacing="0.6" fill="#262626">0</text>
<line x1="1213" y1="415.5" x2="1225" y2="415.5" stroke="#262626" stroke-width="1"/>
<text x="1233.5" y="425.26" font-size="26" letter-spacing="0.6" fill="#262626">40</text>
<line x1="1213" y1="458.5" x2="1225" y2="458.5" stroke="#262626" stroke-width="1"/>
<text x="1233.5" y="468.12" font-size="26" letter-spacing="0.6" fill="#262626">80</text>
<line x1="1213" y1="501.5" x2="1225" y2="501.5" stroke="#262626" stroke-width="1"/>
<text x="1233.5" y="510.98" font-size="26" letter-spacing="0.6" fill="#262626">120</text>
<line x1="1213" y1="544.5" x2="1225" y2="544.5" stroke="#262626" stroke-width="1"/>
<text x="1233.5" y="553.84" font-size="26" letter-spacing="0.6" fill="#262626">160</text>
<line x1="1213" y1="587.5" x2="1225" y2="587.5" stroke="#262626" stroke-width="1"/>
<text x="1233.5" y="596.7" font-size="26" letter-spacing="0.6" fill="#262626">200</text>
<line x1="96" y1="343.5" x2="1225" y2="343.5" stroke="#3c3c3c" stroke-width="1.1"/>
<line x1="96" y1="609.9" x2="1225" y2="609.9" stroke="#3c3c3c" stroke-width="1.1"/>
<line x1="96" y1="343.5" x2="96" y2="609.9" stroke="#7a7a7a" stroke-width="1.8"/>
<line x1="1225" y1="343.5" x2="1225" y2="609.9" stroke="#7a7a7a" stroke-width="1.8"/>
<text transform="translate(31,589.7) rotate(-90)" font-size="29.5" font-weight="bold" fill="#000">Mass (10<tspan font-size="23" dx="4.5" dy="-14">3</tspan><tspan dx="2" dy="14"> Gt)</tspan></text>
<text transform="translate(1316,485.7) rotate(-90)" font-size="26.5" font-weight="bold" text-anchor="middle" fill="#262626">SLE (mm)</text>
<text x="1205.5" y="372.8" font-size="24.6" font-weight="bold" text-anchor="end" fill="#000">(b) Ensemble of CMIP5 RCP85</text>
<line x1="119.6" y1="527.1" x2="176.6" y2="527.1" stroke="#0072BD" stroke-width="6"/>
<text x="179.9" y="533.4" font-size="19" font-weight="bold" fill="#000">Mass Balance</text>
<line x1="119.6" y1="552.1" x2="176.6" y2="552.1" stroke="#D95319" stroke-width="3.6" stroke-dasharray="11.6 11"/>
<text x="179.9" y="558.4" font-size="19" font-weight="bold" fill="#000">SMB</text>
<line x1="119.6" y1="576.9" x2="176.6" y2="576.9" stroke="#EDB120" stroke-width="3.6" stroke-dasharray="11.6 11"/>
<text x="179.9" y="583.2" font-size="19" font-weight="bold" fill="#000">Discharge</text>
</g>
<g>
<path d="M96 715.8 L106.88 715.98 L121.93 716.21 L139.75 716.5 L158.96 716.83 L178.18 717.2 L196 717.6 L211.69 718.05 L226.22 718.54 L240.75 719.08 L256.44 719.64 L274.47 720.22 L296 720.8 L322.78 721.4 L354.22 722.02 L388 722.66 L421.78 723.3 L453.22 723.92 L480 724.5 L501.53 725.03 L519.56 725.52 L535.25 725.99 L549.78 726.47 L564.31 726.96 L580 727.5 L596.67 728.02 L613.33 728.49 L630 728.98 L646.67 729.56 L663.33 730.31 L680 731.3 L696.67 732.58 L713.33 734.1 L730 735.79 L746.67 737.57 L763.33 739.37 L780 741.1 L796.67 742.77 L813.33 744.46 L830 746.15 L846.67 747.87 L863.33 749.61 L880 751.4 L896.67 753.19 L913.33 754.97 L930 756.78 L946.67 758.66 L963.33 760.66 L980 762.8 L997.13 765.18 L1014.81 767.78 L1032.5 770.49 L1049.63 773.2 L1065.65 775.81 L1080 778.2 L1092.55 780.34 L1103.7 782.29 L1113.75 784.14 L1122.96 785.96 L1131.62 787.82 L1140 789.8 L1147.91 791.94 L1155.07 794.19 L1161.69 796.47 L1167.93 798.74 L1173.97 800.9 L1180 802.9 L1186.29 804.81 L1192.74 806.71 L1199 808.52 L1204.7 810.14 L1209.49 811.5 L1213 812.5 L1213 894.6 L1209.49 892.73 L1204.7 890.13 L1199 887.05 L1192.74 883.75 L1186.29 880.48 L1180 877.5 L1173.97 874.85 L1167.93 872.34 L1161.69 869.87 L1155.07 867.31 L1147.91 864.56 L1140 861.5 L1131.62 858.08 L1122.96 854.37 L1113.75 850.47 L1103.7 846.46 L1092.55 842.44 L1080 838.5 L1065.65 834.62 L1049.63 830.73 L1032.5 826.82 L1014.81 822.9 L997.13 818.96 L980 815 L963.33 810.9 L946.67 806.64 L930 802.37 L913.33 798.22 L896.67 794.35 L880 790.9 L863.33 787.98 L846.67 785.48 L830 783.26 L813.33 781.16 L796.67 779.03 L780 776.7 L763.33 774.17 L746.67 771.54 L730 768.89 L713.33 766.24 L696.67 763.67 L680 761.2 L663.33 758.82 L646.67 756.48 L630 754.2 L613.33 752.01 L596.67 749.94 L580 748 L564.31 746.32 L549.78 744.91 L535.25 743.62 L519.56 742.29 L501.53 740.76 L480 738.9 L453.22 736.51 L421.78 733.67 L388 730.64 L354.22 727.69 L322.78 725.05 L296 723 L274.47 721.61 L256.44 720.68 L240.75 720.07 L226.22 719.66 L211.69 719.28 L196 718.8 L178.18 718.23 L158.96 717.69 L139.75 717.19 L121.93 716.74 L106.88 716.38 L96 716.1 Z" fill="#0067AB" fill-opacity="0.5" stroke="none"/>
<path d="M96 715.8 L106.88 715.66 L121.93 715.47 L139.75 715.25 L158.96 715 L178.18 714.75 L196 714.5 L211.69 714.3 L226.22 714.14 L240.75 713.98 L256.44 713.76 L274.47 713.41 L296 712.9 L322.78 712.13 L354.22 711.13 L388 710.01 L421.78 708.89 L453.22 707.88 L480 707.1 L501.53 706.56 L519.56 706.18 L535.25 705.91 L549.78 705.71 L564.31 705.52 L580 705.3 L596.67 705.04 L613.33 704.79 L630 704.54 L646.67 704.34 L663.33 704.18 L680 704.1 L696.67 704.06 L713.33 704.06 L730 704.1 L746.67 704.22 L763.33 704.45 L780 704.8 L796.67 705.28 L813.33 705.88 L830 706.58 L846.67 707.37 L863.33 708.25 L880 709.2 L896.67 710.19 L913.33 711.24 L930 712.36 L946.67 713.61 L963.33 715.01 L980 716.6 L997.13 718.46 L1014.81 720.58 L1032.5 722.85 L1049.63 725.18 L1065.65 727.46 L1080 729.6 L1092.55 731.61 L1103.7 733.59 L1113.75 735.51 L1122.96 737.39 L1131.62 739.22 L1140 741 L1147.91 742.74 L1155.07 744.43 L1161.69 746.08 L1167.93 747.67 L1173.97 749.18 L1180 750.6 L1186.29 751.99 L1192.74 753.36 L1199 754.65 L1204.7 755.81 L1209.49 756.78 L1213 757.5 L1213 861 L1209.49 859.28 L1204.7 856.93 L1199 854.12 L1192.74 851.07 L1186.29 847.97 L1180 845 L1173.97 842.18 L1167.93 839.35 L1161.69 836.47 L1155.07 833.48 L1147.91 830.34 L1140 827 L1131.62 823.47 L1122.96 819.79 L1113.75 815.96 L1103.7 811.97 L1092.55 807.82 L1080 803.5 L1065.65 798.88 L1049.63 793.95 L1032.5 788.85 L1014.81 783.74 L997.13 778.77 L980 774.1 L963.33 769.58 L946.67 765.07 L930 760.7 L913.33 756.61 L896.67 752.93 L880 749.8 L863.33 747.38 L846.67 745.59 L830 744.22 L813.33 743.04 L796.67 741.84 L780 740.4 L763.33 738.69 L746.67 736.89 L730 735.07 L713.33 733.3 L696.67 731.65 L680 730.2 L663.33 728.98 L646.67 727.95 L630 727.04 L613.33 726.2 L596.67 725.37 L580 724.5 L564.31 723.57 L549.78 722.63 L535.25 721.7 L519.56 720.8 L501.53 719.96 L480 719.2 L453.22 718.5 L421.78 717.84 L388 717.23 L354.22 716.7 L322.78 716.25 L296 715.9 L274.47 715.68 L256.44 715.58 L240.75 715.57 L226.22 715.61 L211.69 715.66 L196 715.7 L178.18 715.74 L158.96 715.8 L139.75 715.89 L121.93 715.97 L106.88 716.05 L96 716.1 Z" fill="#C34713" fill-opacity="0.5" stroke="none"/>
<path d="M96 715.8 L106.88 715.97 L121.93 716.19 L139.75 716.46 L158.96 716.78 L178.18 717.16 L196 717.6 L211.69 718.06 L226.22 718.53 L240.75 719.05 L256.44 719.69 L274.47 720.48 L296 721.5 L322.78 722.88 L354.22 724.61 L388 726.5 L421.78 728.37 L453.22 730.03 L480 731.3 L501.53 732.09 L519.56 732.54 L535.25 732.78 L549.78 732.95 L564.31 733.18 L580 733.6 L596.67 734.21 L613.33 734.91 L630 735.66 L646.67 736.46 L663.33 737.28 L680 738.1 L696.67 738.95 L713.33 739.84 L730 740.76 L746.67 741.67 L763.33 742.56 L780 743.4 L796.67 744.19 L813.33 744.96 L830 745.71 L846.67 746.43 L863.33 747.12 L880 747.8 L896.67 748.48 L913.33 749.16 L930 749.82 L946.67 750.43 L963.33 750.97 L980 751.4 L997.13 751.73 L1014.81 751.97 L1032.5 752.13 L1049.63 752.23 L1065.65 752.29 L1080 752.3 L1092.55 752.24 L1103.7 752.08 L1113.75 751.87 L1122.96 751.66 L1131.62 751.48 L1140 751.4 L1147.91 751.42 L1155.07 751.5 L1161.69 751.62 L1167.93 751.77 L1173.97 751.9 L1180 752 L1186.29 752.07 L1192.74 752.13 L1199 752.19 L1204.7 752.23 L1209.49 752.27 L1213 752.3 L1213 777.6 L1209.49 777.5 L1204.7 777.36 L1199 777.2 L1192.74 777.03 L1186.29 776.85 L1180 776.7 L1173.97 776.57 L1167.93 776.44 L1161.69 776.32 L1155.07 776.2 L1147.91 776.06 L1140 775.9 L1131.62 775.74 L1122.96 775.59 L1113.75 775.42 L1103.7 775.21 L1092.55 774.95 L1080 774.6 L1065.65 774.16 L1049.63 773.66 L1032.5 773.09 L1014.81 772.47 L997.13 771.8 L980 771.1 L963.33 770.33 L946.67 769.47 L930 768.56 L913.33 767.66 L896.67 766.79 L880 766 L863.33 765.35 L846.67 764.82 L830 764.32 L813.33 763.79 L796.67 763.14 L780 762.3 L763.33 761.23 L746.67 759.98 L730 758.62 L713.33 757.2 L696.67 755.77 L680 754.4 L663.33 753.07 L646.67 751.72 L630 750.38 L613.33 749.03 L596.67 747.71 L580 746.4 L564.31 745.21 L549.78 744.14 L535.25 743.08 L519.56 741.93 L501.53 740.57 L480 738.9 L453.22 736.73 L421.78 734.12 L388 731.31 L354.22 728.52 L322.78 726.01 L296 724 L274.47 722.54 L256.44 721.46 L240.75 720.64 L226.22 719.99 L211.69 719.41 L196 718.8 L178.18 718.17 L158.96 717.61 L139.75 717.12 L121.93 716.71 L106.88 716.36 L96 716.1 Z" fill="#DBA121" fill-opacity="0.5" stroke="none"/>
<path d="M96 715.9 L106.88 716.13 L121.93 716.44 L139.75 716.82 L158.96 717.24 L178.18 717.71 L196 718.2 L211.69 718.67 L226.22 719.13 L240.75 719.62 L256.44 720.21 L274.47 720.95 L296 721.9 L322.78 723.13 L354.22 724.61 L388 726.24 L421.78 727.91 L453.22 729.54 L480 731 L501.53 732.28 L519.56 733.46 L535.25 734.58 L549.78 735.69 L564.31 736.85 L580 738.1 L596.67 739.42 L613.33 740.77 L630 742.16 L646.67 743.62 L663.33 745.16 L680 746.8 L696.67 748.55 L713.33 750.4 L730 752.32 L746.67 754.33 L763.33 756.39 L780 758.5 L796.67 760.64 L813.33 762.8 L830 765.03 L846.67 767.35 L863.33 769.8 L880 772.4 L896.67 775.17 L913.33 778.09 L930 781.13 L946.67 784.28 L963.33 787.51 L980 790.8 L997.13 794.24 L1014.81 797.86 L1032.5 801.57 L1049.63 805.26 L1065.65 808.84 L1080 812.2 L1092.55 815.36 L1103.7 818.38 L1113.75 821.29 L1122.96 824.11 L1131.62 826.84 L1140 829.5 L1147.91 832.09 L1155.07 834.59 L1161.69 837 L1167.93 839.34 L1173.97 841.6 L1180 843.8 L1186.29 846.04 L1192.74 848.33 L1199 850.54 L1204.7 852.56 L1209.49 854.26 L1213 855.5" fill="none" stroke="#0072BD" stroke-width="6" stroke-linejoin="round"/>
<path d="M96 715.9 L106.88 715.81 L121.93 715.69 L139.75 715.54 L158.96 715.39 L178.18 715.24 L196 715.1 L211.69 714.98 L226.22 714.87 L240.75 714.76 L256.44 714.64 L274.47 714.53 L296 714.4 L322.78 714.23 L354.22 714.02 L388 713.81 L421.78 713.62 L453.22 713.51 L480 713.5 L501.53 713.61 L519.56 713.8 L535.25 714.07 L549.78 714.39 L564.31 714.73 L580 715.1 L596.67 715.46 L613.33 715.83 L630 716.24 L646.67 716.7 L663.33 717.25 L680 717.9 L696.67 718.66 L713.33 719.5 L730 720.42 L746.67 721.43 L763.33 722.52 L780 723.7 L796.67 724.95 L813.33 726.26 L830 727.66 L846.67 729.15 L863.33 730.76 L880 732.5 L896.67 734.33 L913.33 736.23 L930 738.24 L946.67 740.41 L963.33 742.79 L980 745.4 L997.13 748.39 L1014.81 751.76 L1032.5 755.32 L1049.63 758.91 L1065.65 762.36 L1080 765.5 L1092.55 768.31 L1103.7 770.93 L1113.75 773.41 L1122.96 775.8 L1131.62 778.15 L1140 780.5 L1147.91 782.88 L1155.07 785.25 L1161.69 787.57 L1167.93 789.83 L1173.97 791.98 L1180 794 L1186.29 795.96 L1192.74 797.9 L1199 799.74 L1204.7 801.4 L1209.49 802.78 L1213 803.8" fill="none" stroke="#D95319" stroke-width="3.6" stroke-dasharray="11.5 11" stroke-linejoin="round"/>
<path d="M96 715.9 L106.88 716.12 L121.93 716.41 L139.75 716.77 L158.96 717.19 L178.18 717.66 L196 718.2 L211.69 718.74 L226.22 719.29 L240.75 719.89 L256.44 720.61 L274.47 721.53 L296 722.7 L322.78 724.26 L354.22 726.2 L388 728.33 L421.78 730.46 L453.22 732.41 L480 734 L501.53 735.18 L519.56 736.08 L535.25 736.8 L549.78 737.44 L564.31 738.11 L580 738.9 L596.67 739.8 L613.33 740.71 L630 741.66 L646.67 742.62 L663.33 743.6 L680 744.6 L696.67 745.65 L713.33 746.76 L730 747.88 L746.67 748.99 L763.33 750.04 L780 751 L796.67 751.85 L813.33 752.61 L830 753.33 L846.67 754.01 L863.33 754.69 L880 755.4 L896.67 756.15 L913.33 756.93 L930 757.71 L946.67 758.46 L963.33 759.17 L980 759.8 L997.13 760.36 L1014.81 760.85 L1032.5 761.3 L1049.63 761.71 L1065.65 762.11 L1080 762.5 L1092.55 762.89 L1103.7 763.27 L1113.75 763.62 L1122.96 763.96 L1131.62 764.25 L1140 764.5 L1147.91 764.69 L1155.07 764.84 L1161.69 764.94 L1167.93 765.03 L1173.97 765.11 L1180 765.2 L1186.29 765.3 L1192.74 765.4 L1199 765.49 L1204.7 765.58 L1209.49 765.65 L1213 765.7" fill="none" stroke="#EDB120" stroke-width="3.6" stroke-dasharray="11.5 11" stroke-linejoin="round"/>
<line x1="253.5" y1="952.4" x2="253.5" y2="940.4" stroke="#262626" stroke-width="1"/>
<line x1="253.5" y1="686.5" x2="253.5" y2="698.5" stroke="#262626" stroke-width="1"/>
<text x="249.72" y="986.8" font-size="26" letter-spacing="0.6" text-anchor="middle" fill="#262626">2020</text>
<line x1="496.5" y1="952.4" x2="496.5" y2="940.4" stroke="#262626" stroke-width="1"/>
<line x1="496.5" y1="686.5" x2="496.5" y2="698.5" stroke="#262626" stroke-width="1"/>
<text x="492.51" y="986.8" font-size="26" letter-spacing="0.6" text-anchor="middle" fill="#262626">2040</text>
<line x1="739.5" y1="952.4" x2="739.5" y2="940.4" stroke="#262626" stroke-width="1"/>
<line x1="739.5" y1="686.5" x2="739.5" y2="698.5" stroke="#262626" stroke-width="1"/>
<text x="735.31" y="986.8" font-size="26" letter-spacing="0.6" text-anchor="middle" fill="#262626">2060</text>
<line x1="982.5" y1="952.4" x2="982.5" y2="940.4" stroke="#262626" stroke-width="1"/>
<line x1="982.5" y1="686.5" x2="982.5" y2="698.5" stroke="#262626" stroke-width="1"/>
<text x="978.1" y="986.8" font-size="26" letter-spacing="0.6" text-anchor="middle" fill="#262626">2080</text>
<line x1="1225.5" y1="952.4" x2="1225.5" y2="940.4" stroke="#262626" stroke-width="1"/>
<line x1="1225.5" y1="686.5" x2="1225.5" y2="698.5" stroke="#262626" stroke-width="1"/>
<text x="1220.9" y="986.8" font-size="26" letter-spacing="0.6" text-anchor="middle" fill="#262626">2100</text>
<line x1="96" y1="716.5" x2="108" y2="716.5" stroke="#262626" stroke-width="1"/>
<text x="85.4" y="725.34" font-size="26" letter-spacing="0.6" text-anchor="end" fill="#262626">0</text>
<line x1="96" y1="775.5" x2="108" y2="775.5" stroke="#262626" stroke-width="1"/>
<text x="82" y="784.43" font-size="26" letter-spacing="0.6" text-anchor="end" fill="#262626">-20</text>
<line x1="96" y1="834.5" x2="108" y2="834.5" stroke="#262626" stroke-width="1"/>
<text x="82" y="843.52" font-size="26" letter-spacing="0.6" text-anchor="end" fill="#262626">-40</text>
<line x1="96" y1="893.5" x2="108" y2="893.5" stroke="#262626" stroke-width="1"/>
<text x="82" y="902.61" font-size="26" letter-spacing="0.6" text-anchor="end" fill="#262626">-60</text>
<line x1="96" y1="952.5" x2="108" y2="952.5" stroke="#262626" stroke-width="1"/>
<text x="82" y="961.7" font-size="26" letter-spacing="0.6" text-anchor="end" fill="#262626">-80</text>
<line x1="1213" y1="716.5" x2="1225" y2="716.5" stroke="#262626" stroke-width="1"/>
<text x="1233.5" y="725.34" font-size="26" letter-spacing="0.6" fill="#262626">0</text>
<line x1="1213" y1="758.5" x2="1225" y2="758.5" stroke="#262626" stroke-width="1"/>
<text x="1233.5" y="768.12" font-size="26" letter-spacing="0.6" fill="#262626">40</text>
<line x1="1213" y1="801.5" x2="1225" y2="801.5" stroke="#262626" stroke-width="1"/>
<text x="1233.5" y="810.91" font-size="26" letter-spacing="0.6" fill="#262626">80</text>
<line x1="1213" y1="844.5" x2="1225" y2="844.5" stroke="#262626" stroke-width="1"/>
<text x="1233.5" y="853.69" font-size="26" letter-spacing="0.6" fill="#262626">120</text>
<line x1="1213" y1="887.5" x2="1225" y2="887.5" stroke="#262626" stroke-width="1"/>
<text x="1233.5" y="896.47" font-size="26" letter-spacing="0.6" fill="#262626">160</text>
<line x1="1213" y1="929.5" x2="1225" y2="929.5" stroke="#262626" stroke-width="1"/>
<text x="1233.5" y="939.25" font-size="26" letter-spacing="0.6" fill="#262626">200</text>
<line x1="96" y1="686.5" x2="1225" y2="686.5" stroke="#3c3c3c" stroke-width="1.1"/>
<line x1="96" y1="952.4" x2="1225" y2="952.4" stroke="#3c3c3c" stroke-width="1.1"/>
<line x1="96" y1="686.5" x2="96" y2="952.4" stroke="#7a7a7a" stroke-width="1.8"/>
<line x1="1225" y1="686.5" x2="1225" y2="952.4" stroke="#7a7a7a" stroke-width="1.8"/>
<text transform="translate(31,932.45) rotate(-90)" font-size="29.5" font-weight="bold" fill="#000">Mass (10<tspan font-size="23" dx="4.5" dy="-14">3</tspan><tspan dx="2" dy="14"> Gt)</tspan></text>
<text transform="translate(1316,828.45) rotate(-90)" font-size="26.5" font-weight="bold" text-anchor="middle" fill="#262626">SLE (mm)</text>
<text x="1214.4" y="715.8" font-size="24.6" font-weight="bold" text-anchor="end" fill="#000">(c) Ensemble of CMIP6 SSP585</text>
<line x1="119.6" y1="870.3" x2="176.6" y2="870.3" stroke="#0072BD" stroke-width="6"/>
<text x="179.9" y="876.6" font-size="19" font-weight="bold" fill="#000">Mass Balance</text>
<line x1="119.6" y1="894.6" x2="176.6" y2="894.6" stroke="#D95319" stroke-width="3.6" stroke-dasharray="11.6 11"/>
<text x="179.9" y="900.9" font-size="19" font-weight="bold" fill="#000">SMB</text>
<line x1="119.6" y1="919.4" x2="176.6" y2="919.4" stroke="#EDB120" stroke-width="3.6" stroke-dasharray="11.6 11"/>
<text x="179.9" y="925.7" font-size="19" font-weight="bold" fill="#000">Discharge</text>
</g>
<text x="654" y="1024" font-size="29.5" font-weight="bold" text-anchor="middle" fill="#262626">year</text>
</svg></body></html>
